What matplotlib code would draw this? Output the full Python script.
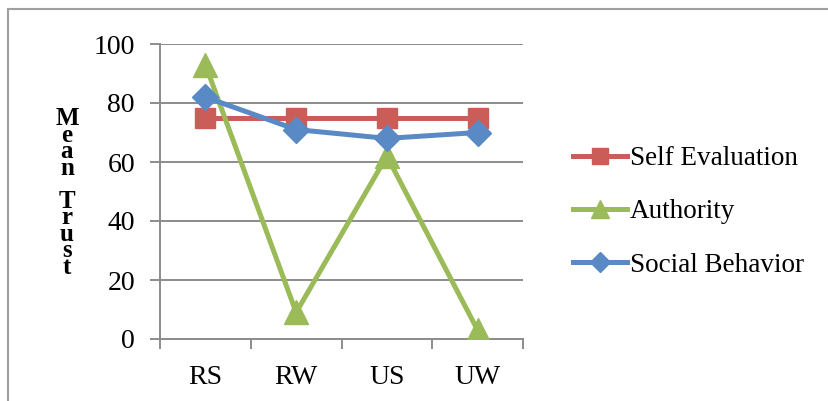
import matplotlib.pyplot as plt
from matplotlib.patches import Rectangle
import numpy as np

categories = ['RS', 'RW', 'US', 'UW']
self_evaluation = [75, 75, 75, 75]
authority = [93, 9, 62, 3]
social_behavior = [82, 71, 68, 70]
y_ticks = [0, 20, 40, 60, 80, 100]

plt.rcParams['font.family'] = ['Liberation Serif', 'DejaVu Serif']

fig = plt.figure(figsize=(8.29, 4.01), dpi=100)
ax = fig.add_axes([160 / 829, 1 - 339 / 401, 363 / 829, 295 / 401])

grey = '#8C8C8C'
x = np.arange(len(categories))
ax.plot(x, self_evaluation, color='#CB5D58', lw=3.6, marker='s', ms=15,
        label='Self Evaluation', zorder=3)
ax.plot(x, authority, color='#9BBB59', lw=3.6, marker='^', ms=17,
        label='Authority', zorder=4)
ax.plot(x, social_behavior, color='#5A8AC6', lw=3.6, marker='D', ms=13,
        label='Social Behavior', zorder=5)

ax.set_xlim(-0.5, len(categories) - 0.5)
ax.set_ylim(0, 100)
ax.set_yticks(y_ticks)
ax.set_xticks(x)
ax.set_xticklabels(categories)
ax.set_xticks(np.arange(len(categories) + 1) - 0.5, minor=True)
ax.tick_params(axis='x', which='major', length=0, pad=19, labelsize=20)
ax.tick_params(axis='x', which='minor', length=7, width=1.4, color=grey, direction='out')
ax.tick_params(axis='y', length=7, width=1.4, color=grey, direction='out', pad=11, labelsize=20)

ax.grid(axis='y', color=grey, lw=1.4)
ax.set_axisbelow(True)
for s in ['top', 'right']:
    ax.spines[s].set_visible(False)
for s in ['left', 'bottom']:
    ax.spines[s].set_color(grey)
    ax.spines[s].set_linewidth(1.4)

# stacked axis title, as in the original
fig.text(67 / 829, 1 - 107 / 401, 'M\ne\na\nn\n \nT\nr\nu\ns\nt', ha='center', va='top',
         fontsize=18, fontweight='bold', linespacing=0.64)

ax.legend(loc='center left', bbox_to_anchor=(1.07, (339 - 212) / 295), frameon=False, fontsize=19.5,
          handlelength=2.0, labelspacing=1.05, handletextpad=0.1, markerscale=0.75)

fig.patches.append(Rectangle((8 / 829, -0.1), 1.2, 1 - 9 / 401 + 0.1, transform=fig.transFigure,
                             fill=False, edgecolor='#A0A0A0', lw=1.5))

fig.savefig('out.png', dpi=100)
